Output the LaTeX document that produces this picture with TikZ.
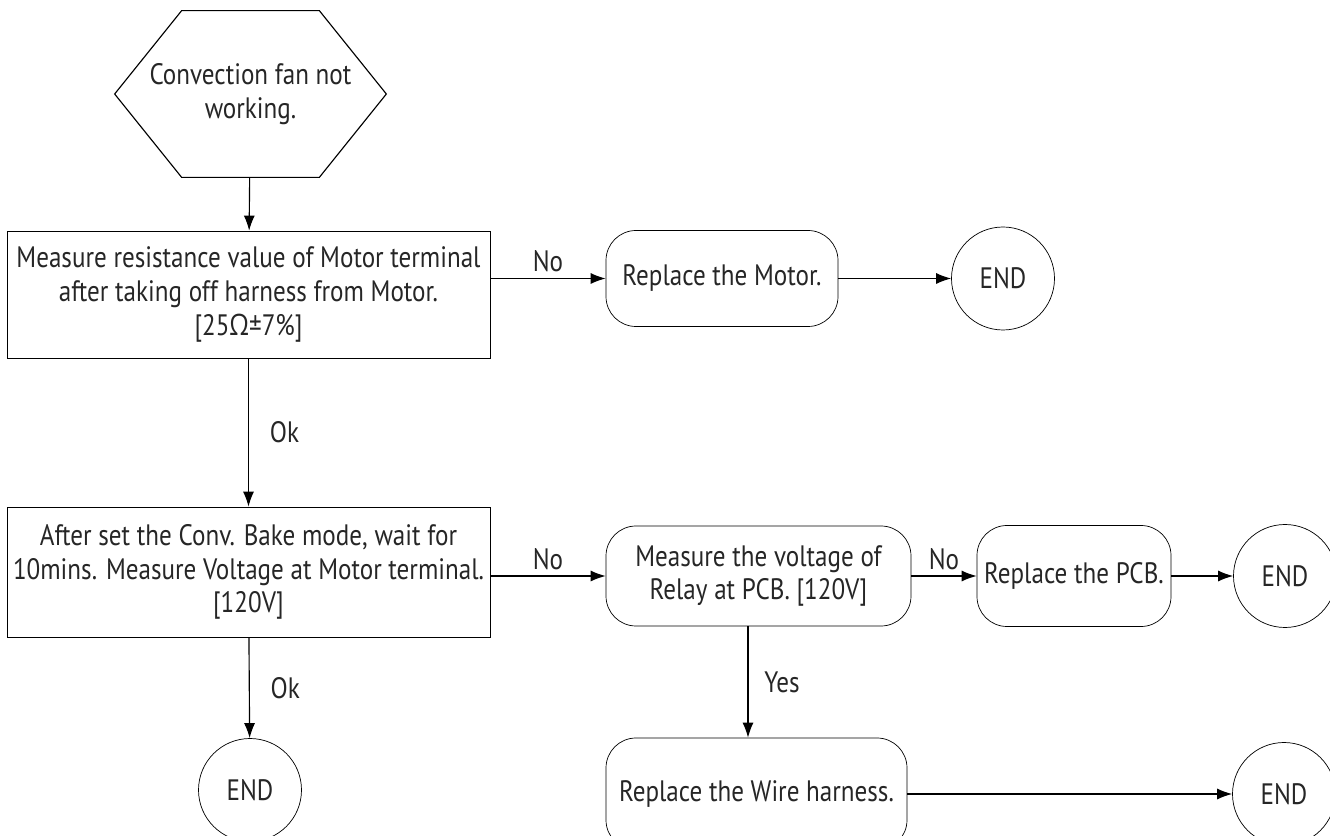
\documentclass[tikz,border=0pt]{standalone}
\usepackage{fontspec}
\setmainfont[FakeStretch=0.85]{PT Sans}
\newfontfamily\symfont[FakeStretch=0.85]{Open Sans}
\usetikzlibrary{positioning,arrows.meta}

\begin{document}
\begin{tikzpicture}[>={Latex[length=3mm,width=2.2mm]}]
			\tikzset{
				every node/.style={font=\fontsize{16.8}{19.2}\selectfont, text=black!85},
				startbox/.style={minimum width=5.42cm, minimum height=3.32cm,
						align=center, inner sep=1pt},
				checkbox/.style={draw, rectangle, minimum width=9.66cm, align=center},
				fixbox/.style={draw, rounded corners=0.6cm, minimum height=1.92cm,
						align=center},
				endnode/.style={draw, circle, minimum size=2.06cm, inner sep=0pt},
				flow/.style={->, line width=0.65pt},
			}
			\useasboundingbox (0,0) rectangle (26.6,-16.72);
			% left column
			\node[startbox] (start) at (5.01,-1.88) {Convection fan not\\working.};
			\draw[line width=0.65pt] (start.west) -- ([xshift=1.34cm]start.north west)
			-- ([xshift=-1.34cm]start.north east) -- (start.east)
			-- ([xshift=-1.34cm]start.south east) -- ([xshift=1.34cm]start.south west) -- cycle;
			\node[checkbox, minimum height=2.54cm] (meas1) at (4.97,-5.89)
			{Measure resistance value of Motor terminal\\after taking off harness from Motor.\\{[}25{\symfont Ω}±7\%{]}};
			\node[checkbox, minimum height=2.6cm] (meas2) at (4.97,-11.44)
			{After set the Conv. Bake mode, wait for\\10mins. Measure Voltage at Motor terminal.\\{[}120V{]}};
			\node[endnode] (end1) at (5.0,-15.8) {END};
			% right side
			\node[fixbox, minimum width=4.64cm] (motor) at (14.44,-5.57) {Replace the Motor.};
			\node[endnode] (end2) at (20.06,-5.57) {END};
			\node[fixbox, minimum width=6.1cm, minimum height=2.0cm] (relay) at (15.17,-11.52)
			{Measure the voltage of\\Relay at PCB. {[}120V{]}};
			\node[fixbox, minimum width=3.88cm, minimum height=2.02cm] (pcb) at (21.48,-11.52)
			{Replace the PCB.};
			\node[endnode] (end3) at (25.7,-11.52) {END};
			\node[fixbox, minimum width=6.02cm, minimum height=2.24cm] (wire) at (15.13,-15.88)
			{Replace the Wire harness.};
			\node[endnode] (end4) at (25.68,-15.88) {END};
			\coordinate (ytap) at (14.96,-13.6);

			\draw[flow] (start) -- (meas1);
			\draw[flow] (meas1) -- node[right=3mm]{Ok} (meas2);
			\draw[flow] (meas2) -- node[right=3mm]{Ok} (end1);
			\draw[flow] (meas1.east |- motor.west) -- node[above]{No} (motor.west);
			\draw[flow] (motor) -- (end2);
			\draw[flow] (meas2.east |- relay.west) -- node[above]{No} (relay.west);
			\draw[flow] (relay) -- node[above]{No} (pcb);
			\draw[flow] (pcb) -- (end3);
			\draw[flow] (relay.south -| ytap) -- node[right=2mm]{Yes} (wire.north -| ytap);
			\draw[flow] (wire) -- (end4);
		\end{tikzpicture}
\end{document}
